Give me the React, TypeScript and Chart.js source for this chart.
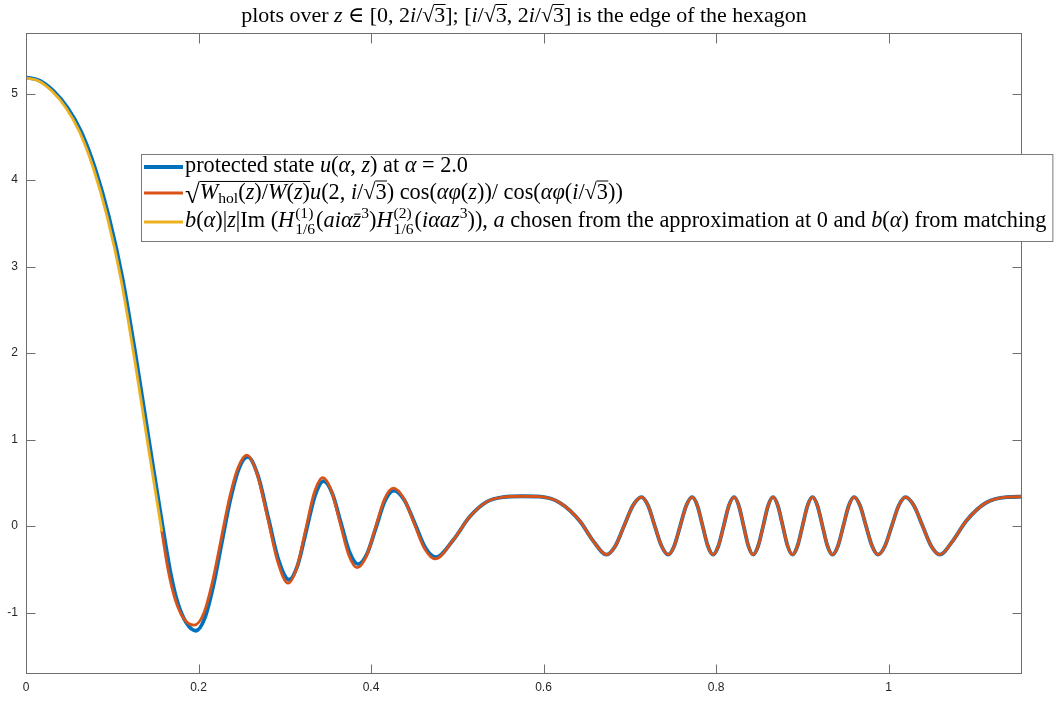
import React, { useEffect, useRef } from "react";
import { Chart, registerables } from "chart.js";

Chart.register(...registerables);

// ---------- axes ----------
const X_MIN = 0;
const X_MAX = 1.1547;
const Y_MIN = -1.71;
const Y_MAX = 5.69;

const xTickValues = [0, 0.2, 0.4, 0.6, 0.8, 1];
const xTickLabels = ["0", "0.2", "0.4", "0.6", "0.8", "1"];
const yTickValues = [-1, 0, 1, 2, 3, 4, 5];
const yTickLabels = ["-1", "0", "1", "2", "3", "4", "5"];

// ---------- data ----------
// protected state u(alpha, z): head part
const uHeadX = [0, 0.016, 0.032, 0.048, 0.064, 0.08, 0.096, 0.112, 0.128, 0.144, 0.16, 0.168, 0.176, 0.186, 0.197, 0.207, 0.217, 0.227, 0.237, 0.247, 0.257, 0.269, 0.281, 0.293, 0.305, 0.315, 0.325, 0.335, 0.345, 0.355, 0.365, 0.375, 0.385, 0.3954, 0.4058, 0.4161, 0.4265, 0.4387, 0.451, 0.463, 0.4752];
const uHeadY = [5.19, 5.15, 5.03, 4.84, 4.56, 4.14, 3.58, 2.86, 1.92, 0.9, -0.1, -0.56, -0.89, -1.12, -1.21, -1.07, -0.7, -0.19, 0.31, 0.67, 0.8, 0.58, 0.09, -0.4, -0.62, -0.45, -0.05, 0.35, 0.52, 0.38, 0.04, -0.3, -0.44, -0.32, -0.015, 0.29, 0.41, 0.3, 0.025, -0.25, -0.36];

// sqrt(W_hol/W) ... approximation: head part
const rootHeadX = [0.1573, 0.165, 0.173, 0.183, 0.195, 0.206, 0.216, 0.226, 0.236, 0.246, 0.256, 0.268, 0.28, 0.292, 0.304, 0.314, 0.324, 0.334, 0.344, 0.354, 0.364, 0.374, 0.384, 0.3945, 0.405, 0.4155, 0.426, 0.438, 0.45, 0.462, 0.4745];
const rootHeadY = [-0.05, -0.52, -0.85, -1.07, -1.145, -1.01, -0.65, -0.16, 0.33, 0.68, 0.82, 0.6, 0.1, -0.42, -0.66, -0.48, -0.05, 0.38, 0.56, 0.41, 0.04, -0.33, -0.48, -0.35, -0.02, 0.31, 0.44, 0.32, 0.03, -0.26, -0.38];

// common tail of u and the sqrt approximation (they coincide there)
const tailX = [0.4953, 0.5146, 0.534, 0.553, 0.575, 0.5957, 0.619, 0.642, 0.6575, 0.673,
  0.6832, 0.6933, 0.7035, 0.7136, 0.7213, 0.729, 0.7368, 0.7445, 0.7515, 0.7584, 0.7654, 0.7723,
  0.7784, 0.7845, 0.7905, 0.7966, 0.8027, 0.8088, 0.8148, 0.8209, 0.8264, 0.832, 0.8375, 0.843,
  0.8488, 0.8546, 0.8603, 0.8661, 0.8717, 0.8774, 0.883, 0.8886, 0.8944, 0.9002, 0.906, 0.9118,
  0.9176, 0.9234, 0.9292, 0.935, 0.9413, 0.9475, 0.9538, 0.96, 0.967, 0.9739, 0.9809, 0.9878,
  0.9958, 1.0037, 1.0117, 1.0196, 1.0295, 1.0395, 1.0494, 1.0593,
  1.0745, 1.09, 1.113, 1.137, 1.1547];
const tailY = [-0.16, 0.11, 0.28, 0.335, 0.345, 0.34, 0.27, 0.06, -0.17, -0.33,
  -0.23, 0.0, 0.235, 0.335, 0.235, 0.0, -0.23, -0.33, -0.23, 0.0, 0.235, 0.335,
  0.235, 0.0, -0.23, -0.33, -0.23, 0.0, 0.235, 0.335, 0.235, 0.0, -0.23, -0.33,
  -0.23, 0.0, 0.235, 0.335, 0.235, 0.0, -0.23, -0.33, -0.23, 0.0, 0.235, 0.335,
  0.235, 0.0, -0.23, -0.33, -0.23, 0.0, 0.235, 0.335, 0.235, 0.0, -0.23, -0.33,
  -0.23, 0.0, 0.235, 0.335, 0.235, 0.0, -0.23, -0.33,
  -0.17, 0.06, 0.27, 0.335, 0.34];

// Hankel approximation near 0
const besselX = [0, 0.014, 0.03, 0.046, 0.062, 0.078, 0.094, 0.11, 0.126, 0.142, 0.1573];
const besselY = [5.18, 5.15, 5.03, 4.84, 4.56, 4.14, 3.58, 2.86, 1.92, 0.9, -0.05];

const seriesLabels = [
  "protected state u(α, z) at α = 2.0",
  "√(W_hol(z)/W(z)) u(2, i/√3) cos(αφ(z))/ cos(αφ(i/√3))",
  "b(α)|z|Im (H(1)1/6(aiαz̄3)H(2)1/6(iαaz3)), a chosen from the approximation at 0 and b(α) from matching",
];
const seriesColors = ["#0072BD", "#D95319", "#EDB120"];
const seriesWidths = [3.8, 2.8, 2.8];

// ---------- rich text ----------
type Seg = {
  t?: string;
  it?: boolean;
  s?: number;
  dy?: number;
  rad?: boolean;
  ov?: boolean;
  ovx?: boolean;
  stack?: [string, string];
};

const titleSegs: Seg[] = [
  { t: "plots over " }, { t: "z", it: true }, { t: " ∈ [0, 2" }, { t: "i", it: true }, { t: "/" },
  { t: "√", rad: true }, { t: "3", ov: true }, { t: "]; [" }, { t: "i", it: true }, { t: "/" },
  { t: "√", rad: true }, { t: "3", ov: true }, { t: ", 2" }, { t: "i", it: true }, { t: "/" },
  { t: "√", rad: true }, { t: "3", ov: true }, { t: "] is the edge of the hexagon" },
];

const legendRow1: Seg[] = [
  { t: "protected state " }, { t: "u", it: true }, { t: "(" }, { t: "α", it: true }, { t: ", " },
  { t: "z", it: true }, { t: ") at " }, { t: "α", it: true }, { t: " = 2.0" },
];
const legendRow2: Seg[] = [
  { t: "√", rad: true, s: 1.2, dy: 0.2 }, { t: "W", it: true, ov: true }, { t: "hol", s: 0.7, dy: 0.2, ov: true },
  { t: "(", ov: true }, { t: "z", it: true, ov: true }, { t: ")/", ov: true }, { t: "W", it: true, ov: true },
  { t: "(", ov: true }, { t: "z", it: true, ov: true }, { t: ")", ov: true }, { t: "u", it: true }, { t: "(2, " },
  { t: "i", it: true }, { t: "/" }, { t: "√", rad: true }, { t: "3", ov: true }, { t: ") cos(" },
  { t: "αφ", it: true }, { t: "(" }, { t: "z", it: true }, { t: "))/ cos(" }, { t: "αφ", it: true }, { t: "(" },
  { t: "i", it: true }, { t: "/" }, { t: "√", rad: true }, { t: "3", ov: true }, { t: "))" },
];
const legendRow3: Seg[] = [
  { t: "b", it: true }, { t: "(" }, { t: "α", it: true }, { t: ")|" }, { t: "z", it: true }, { t: "|Im (" },
  { t: "H", it: true }, { stack: ["(1)", "1/6"] }, { t: "(" }, { t: "aiα", it: true }, { t: "z", it: true, ovx: true },
  { t: "3", s: 0.7, dy: -0.42 }, { t: ")" }, { t: "H", it: true }, { stack: ["(2)", "1/6"] }, { t: "(" },
  { t: "iαaz", it: true }, { t: "3", s: 0.7, dy: -0.42 }, { t: ")), " }, { t: "a", it: true },
  { t: " chosen from the approximation at 0 and " }, { t: "b", it: true }, { t: "(" }, { t: "α", it: true },
  { t: ") from matching" },
];
const legendRows = [legendRow1, legendRow2, legendRow3];

const SERIF = '"Liberation Serif", "DejaVu Serif", serif';
const fontOf = (size: number, it: boolean) => `${it ? "italic " : ""}${size}px ${SERIF}`;

function drawRich(ctx: CanvasRenderingContext2D, segs: Seg[], x0: number, base: number, size: number, draw: boolean): number {
  let x = x0;
  let barY = base - size * 0.8;
  ctx.textBaseline = "alphabetic";
  ctx.textAlign = "left";
  for (const seg of segs) {
    if (seg.stack) {
      const ss = size * 0.7;
      ctx.font = fontOf(ss, false);
      const w1 = ctx.measureText(seg.stack[0]).width;
      const w2 = ctx.measureText(seg.stack[1]).width;
      if (draw) {
        ctx.fillText(seg.stack[0], x + 1, base - size * 0.42);
        ctx.fillText(seg.stack[1], x + 1, base + size * 0.33);
      }
      x += Math.max(w1, w2) + 2;
      continue;
    }
    const s = size * (seg.s ?? 1);
    const dy = (seg.dy ?? 0) * size;
    ctx.font = fontOf(s, !!seg.it);
    const m = ctx.measureText(seg.t || "");
    const w = m.width;
    if (draw) ctx.fillText(seg.t || "", x, base + dy);
    if (seg.rad) {
      barY = base + dy - m.actualBoundingBoxAscent;
    }
    if (draw && seg.ov) {
      ctx.fillRect(x - 0.3, barY, w + 0.6, 1);
    }
    if (draw && seg.ovx) {
      ctx.fillRect(x + w * 0.2, base - size * 0.6, w * 0.7, 1);
    }
    x += w;
  }
  return x - x0;
}

const TITLE_WIDTH = 566;
const LEGEND_TEXT_WIDTH = 863;
const AXIS_COLOR = "#6e6e6e";

const decorPlugin = {
  id: "matlabDecor",
  afterDraw(chart: any) {
    const ctx: CanvasRenderingContext2D = chart.ctx;
    const { left, right, top, bottom } = chart.chartArea;
    const xs = chart.scales.x;
    const ys = chart.scales.y;
    ctx.save();

    // box + inward ticks
    ctx.strokeStyle = AXIS_COLOR;
    ctx.lineWidth = 1;
    ctx.beginPath();
    const L = 9.5;
    for (const t of xs.ticks) {
      const px = Math.round(xs.getPixelForValue(t.value)) + 0.5;
      ctx.moveTo(px, bottom);
      ctx.lineTo(px, bottom - L);
      ctx.moveTo(px, top);
      ctx.lineTo(px, top + L);
    }
    for (const t of ys.ticks) {
      const py = Math.round(ys.getPixelForValue(t.value)) + 0.5;
      ctx.moveTo(left, py);
      ctx.lineTo(left + L, py);
      ctx.moveTo(right, py);
      ctx.lineTo(right - L, py);
    }
    ctx.stroke();
    ctx.strokeRect(Math.round(left) + 0.5, Math.round(top) - 0.5, Math.round(right - left) - 1, Math.round(bottom - top));

    // title
    ctx.fillStyle = "#000";
    const tw18 = drawRich(ctx, titleSegs, 0, 0, 18, false);
    const tSize = (18 * TITLE_WIDTH) / tw18;
    const tw = drawRich(ctx, titleSegs, 0, 0, tSize, false);
    drawRich(ctx, titleSegs, (left + right) / 2 - tw / 2, 22, tSize, true);

    // legend
    const lw18 = drawRich(ctx, legendRow3, 0, 0, 18, false);
    const lSize = (18 * LEGEND_TEXT_WIDTH) / lw18;
    const widths = legendRows.map((r) => drawRich(ctx, r, 0, 0, lSize, false));
    const boxL = 141;
    const boxT = 154;
    const boxB = 241;
    const textX = 185;
    const boxR = textX + Math.max(...widths) + 6;
    ctx.fillStyle = "#fff";
    ctx.fillRect(boxL, boxT, boxR - boxL, boxB - boxT);
    ctx.strokeStyle = "#7a7a7a";
    ctx.lineWidth = 1;
    ctx.strokeRect(boxL + 0.5, boxT + 0.5, boxR - boxL, boxB - boxT);
    const rowY = [167, 193, 222];
    const baseY = [171.5, 198.5, 227];
    legendRows.forEach((row, i) => {
      ctx.strokeStyle = seriesColors[i];
      ctx.lineWidth = seriesWidths[i];
      ctx.beginPath();
      ctx.moveTo(144, rowY[i]);
      ctx.lineTo(183, rowY[i]);
      ctx.stroke();
      ctx.fillStyle = "#000";
      drawRich(ctx, row, textX, baseY[i], lSize, true);
    });
    ctx.restore();
  },
};

const toPoints = (xs: number[], ys: number[]) => xs.map((x, i) => ({ x, y: ys[i] }));

export default function App() {
  const ref = useRef<HTMLCanvasElement>(null);
  useEffect(() => {
    document.body.style.margin = "0";
    document.body.style.overflow = "hidden";
    const canvas = ref.current!;
    const common = { pointRadius: 0, fill: false, cubicInterpolationMode: "monotone" as const, borderJoinStyle: "round" as const, borderCapStyle: "round" as const };
    const chart = new Chart(canvas, {
      type: "line",
      data: {
        datasets: [
          { ...common, label: seriesLabels[0], data: toPoints([...uHeadX, ...tailX], [...uHeadY, ...tailY]), borderColor: seriesColors[0], borderWidth: seriesWidths[0], order: 3 },
          { ...common, label: seriesLabels[1], data: toPoints([...rootHeadX, ...tailX], [...rootHeadY, ...tailY]), borderColor: seriesColors[1], borderWidth: seriesWidths[1], order: 2 },
          { ...common, label: seriesLabels[2], data: toPoints(besselX, besselY), borderColor: seriesColors[2], borderWidth: seriesWidths[2], order: 1 },
        ],
      },
      options: {
        responsive: false,
        animation: false,
        events: [],
        layout: { padding: { top: 34, right: 41, left: 0, bottom: 0 } },
        plugins: { legend: { display: false }, tooltip: { enabled: false }, title: { display: false } },
        scales: {
          x: {
            type: "linear",
            min: X_MIN,
            max: X_MAX,
            grid: { display: false, drawTicks: false },
            border: { display: false },
            afterBuildTicks: (s: any) => {
              s.ticks = xTickValues.map((v) => ({ value: v }));
            },
            afterFit: (s: any) => {
              s.height = 47;
            },
            ticks: {
              autoSkip: false,
              maxRotation: 0,
              padding: 6,
              color: "#262626",
              font: { family: '"Liberation Sans", Arial, sans-serif', size: 12 },
              callback: (_v: any, i: number) => xTickLabels[i],
            },
          },
          y: {
            type: "linear",
            min: Y_MIN,
            max: Y_MAX,
            grid: { display: false, drawTicks: false },
            border: { display: false },
            afterBuildTicks: (s: any) => {
              s.ticks = yTickValues.map((v) => ({ value: v }));
            },
            afterFit: (s: any) => {
              s.width = 26;
            },
            ticks: {
              autoSkip: false,
              padding: 8,
              color: "#262626",
              font: { family: '"Liberation Sans", Arial, sans-serif', size: 12 },
              callback: (_v: any, i: number) => yTickLabels[i],
            },
          },
        },
      },
      plugins: [decorPlugin],
    });
    return () => chart.destroy();
  }, []);
  return (
    <div style={{ width: 1063, height: 721 }}>
      <canvas ref={ref} width={1063} height={721} style={{ display: "block", width: 1063, height: 721 }} />
    </div>
  );
}
